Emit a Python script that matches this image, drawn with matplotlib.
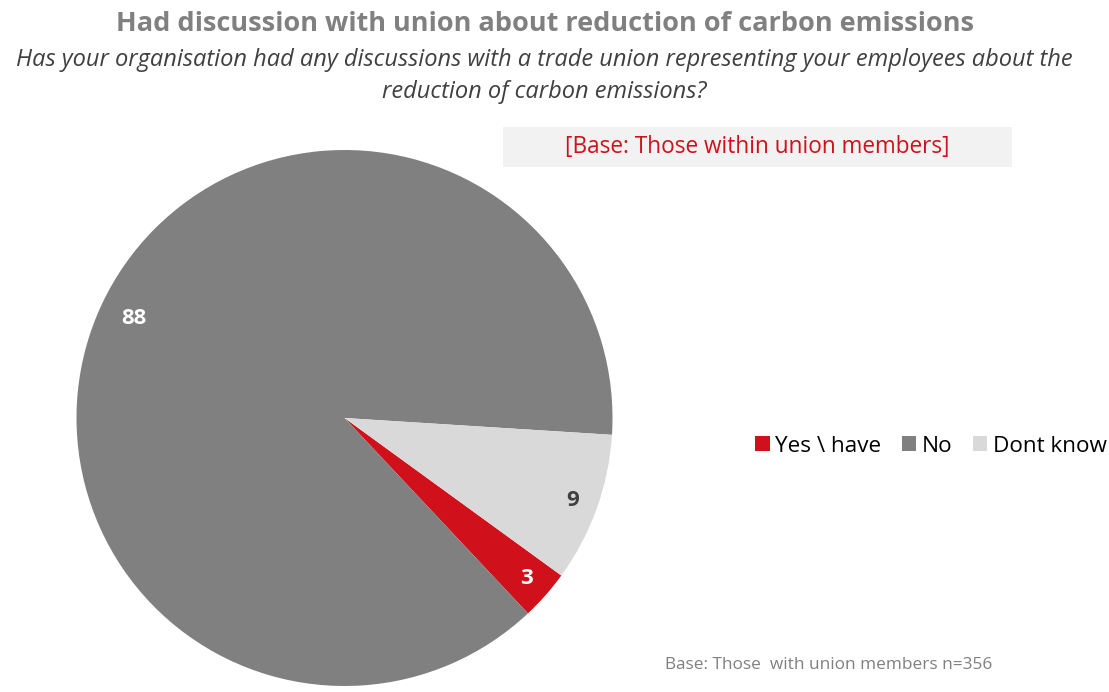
import matplotlib
matplotlib.use("Agg")
import numpy as np
import matplotlib.pyplot as plt
from matplotlib.patches import Rectangle

categories = ["Yes \\ have", "No", "Dont know"]
values = [3, 88, 9]
colors = ["#D0101A", "#808080", "#D9D9D9"]
label_colors = ["white", "white", "#404040"]

title = "Had discussion with union about reduction of carbon emissions"
subtitle_lines = ["Has your organisation had any discussions with a trade union representing your employees about the",
                  "reduction of carbon emissions?"]
base_box = "[Base: Those within union members]"
footnote = "Base: Those  with union members n=356"

plt.rcParams['font.family'] = ['Open Sans', 'DejaVu Sans']

W, H = 1109, 692
fig = plt.figure(figsize=(W / 100, H / 100), dpi=100)

cx, cy, rx, ry = 344.5, 418, 268, 273
ax = fig.add_axes([(cx - rx) / W, (H - cy - ry) / H, 2 * rx / W, 2 * ry / H])
wedges, texts, autotexts = ax.pie(
    values, colors=colors, startangle=-36, counterclock=False,
    autopct=lambda p: f"{p:.0f}", pctdistance=0.9, radius=1,
    wedgeprops=dict(linewidth=0),
    textprops=dict(fontsize=16, fontweight="bold"))
label_r = [0.905, 0.87, 0.905]
for w, t, c, lr in zip(wedges, autotexts, label_colors, label_r):
    t.set_color(c)
    mid = np.deg2rad((w.theta1 + w.theta2) / 2)
    t.set_position((lr * np.cos(mid), lr * np.sin(mid)))
ax.set_xlim(-1, 1)
ax.set_ylim(-1, 1)
ax.axis("off")

fig.text(545 / W, 1 - 24 / H, title, ha="center", va="center",
         fontsize=19.5, fontweight="bold", color="#808080")
fig.text(544 / W, 1 - 60 / H, subtitle_lines[0], ha="center", va="center",
         fontsize=17, style="italic", color="#404040")
fig.text(544 / W, 1 - 92 / H, subtitle_lines[1], ha="center", va="center",
         fontsize=17, style="italic", color="#404040")

fig.patches.append(Rectangle((503 / W, 1 - 167 / H), (1012 - 503) / W, 40 / H,
                             transform=fig.transFigure, facecolor="#F2F2F2",
                             edgecolor="none", zorder=0))
fig.text(757 / W, 1 - 147 / H, base_box, ha="center", va="center",
         fontsize=16.3, color="#D0101A")

leg = fig.legend(wedges, categories, loc="center", bbox_to_anchor=(931 / W, 1 - 446 / H),
                 ncol=3, frameon=False, fontsize=16.2, handlelength=0.65, handleheight=0.65,
                 handletextpad=0.25, columnspacing=0.9)

fig.text(665 / W, 1 - 665 / H, footnote, ha="left", va="center",
         fontsize=12.4, color="#808080")

fig.savefig("out.png", dpi=100)
